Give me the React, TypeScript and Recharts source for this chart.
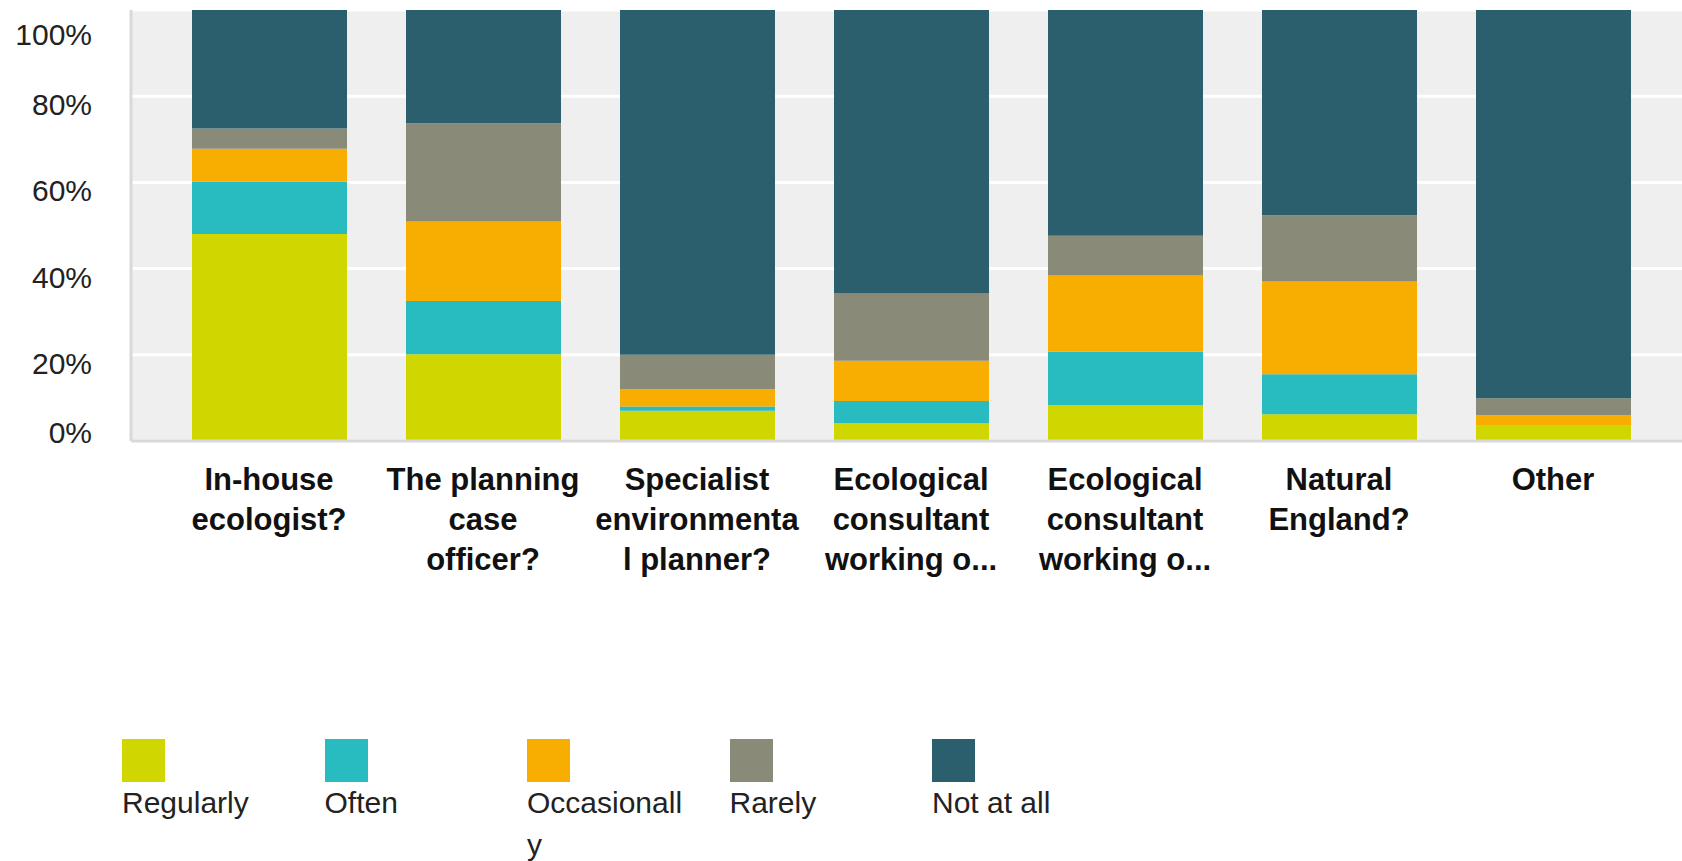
import { BarChart, Bar, XAxis, YAxis, CartesianGrid, Legend } from "recharts";

const categories = [
  "In-house\necologist?",
  "The planning\ncase\nofficer?",
  "Specialist\nenvironmenta\nl planner?",
  "Ecological\nconsultant\nworking o...",
  "Ecological\nconsultant\nworking o...",
  "Natural\nEngland?",
  "Other",
];

const regularly = [48, 20.1, 7.0, 4.1, 8.3, 6.2, 3.7];
const often = [12.2, 12.4, 1.0, 5.2, 12.4, 9.3, 0];
const occasionally = [7.6, 18.4, 4.0, 9.3, 17.7, 21.5, 2.3];
const rarely = [4.7, 22.8, 8.0, 15.6, 9.2, 15.4, 3.9];
const notAtAll = [27.5, 26.3, 80.0, 65.8, 52.4, 47.6, 90.1];

const yTicks = [0, 0.2, 0.4, 0.6, 0.8, 1];

const series = [
  { key: "regularly", name: "Regularly", color: "#d0d700" },
  { key: "often", name: "Often", color: "#28bcc0" },
  { key: "occasionally", name: "Occasionally", color: "#f8ae00" },
  { key: "rarely", name: "Rarely", color: "#8a8a78" },
  { key: "notAtAll", name: "Not at all", color: "#2c5f6d" },
];

const data = categories.map((name, i) => ({
  name,
  regularly: regularly[i],
  often: often[i],
  occasionally: occasionally[i],
  rarely: rarely[i],
  notAtAll: notAtAll[i],
}));

const font = "'Liberation Sans', Arial, sans-serif";

function CategoryTick({ x, y, payload }: any) {
  const lines = String(payload.value).split("\n");
  return (
    <g>
      {lines.map((line, i) => (
        <text
          key={i}
          x={x}
          y={y + 49 + i * 40}
          textAnchor="middle"
          fontFamily={font}
          fontWeight="bold"
          fontSize={31}
          fill="#111"
        >
          {line}
        </text>
      ))}
    </g>
  );
}

function PercentTick({ x, y, payload }: any) {
  // first and last labels are nudged to stay inside the plot
  const shift = payload.value === 1 ? 24 : payload.value === 0 ? -9 : 8;
  return (
    <text
      x={x}
      y={y + shift + 11}
      textAnchor="end"
      fontFamily={font}
      fontSize={30}
      fill="#222"
    >
      {Math.round(payload.value * 100) + "%"}
    </text>
  );
}

const seriesOrder = (name: string) => series.findIndex((s) => s.name === name);

function LegendContent({ payload }: any) {
  const items = [...(payload || [])].sort(
    (a: any, b: any) => seriesOrder(a.value) - seriesOrder(b.value)
  );
  return (
    <div style={{ display: "flex", fontFamily: font }}>
      {items.map((item: any) => (
        <div key={item.value} style={{ width: 202.5 }}>
          <div style={{ width: 43, height: 43, background: item.color }} />
          <div
            style={{
              width: 162,
              fontSize: 30,
              lineHeight: "42px",
              color: "#222",
              wordBreak: "break-all",
            }}
          >
            {item.value}
          </div>
        </div>
      ))}
    </div>
  );
}

export default function App() {
  return (
    <div style={{ position: "absolute", left: 0, top: 0, background: "#fff" }}>
      <BarChart
        width={1682}
        height={861}
        data={data}
        stackOffset="expand"
        margin={{ top: 10, right: 0, left: 0, bottom: 290 }}
      >
        <CartesianGrid
          vertical={false}
          fill="#efefef"
          stroke="#ffffff"
          strokeWidth={3}
        />
        <XAxis
          dataKey="name"
          interval={0}
          height={130}
          padding={{ left: 31, right: 22 }}
          tickLine={false}
          tickSize={0}
          tickMargin={0}
          axisLine={{ stroke: "#d9d9d9", strokeWidth: 3 }}
          tick={<CategoryTick />}
        />
        <YAxis
          width={131}
          domain={[0, 1]}
          ticks={yTicks}
          tickLine={false}
          tickSize={0}
          tickMargin={39}
          axisLine={{ stroke: "#d9d9d9", strokeWidth: 3 }}
          tick={<PercentTick />}
        />
        <Legend
          layout="horizontal"
          verticalAlign="middle"
          align="center"
          wrapperStyle={{ top: 739, left: 122, width: 1100 }}
          content={<LegendContent />}
        />
        {series.map((s) => (
          <Bar
            key={s.key}
            dataKey={s.key}
            name={s.name}
            stackId="a"
            fill={s.color}
            barSize={155}
            isAnimationActive={false}
          />
        ))}
      </BarChart>
    </div>
  );
}
